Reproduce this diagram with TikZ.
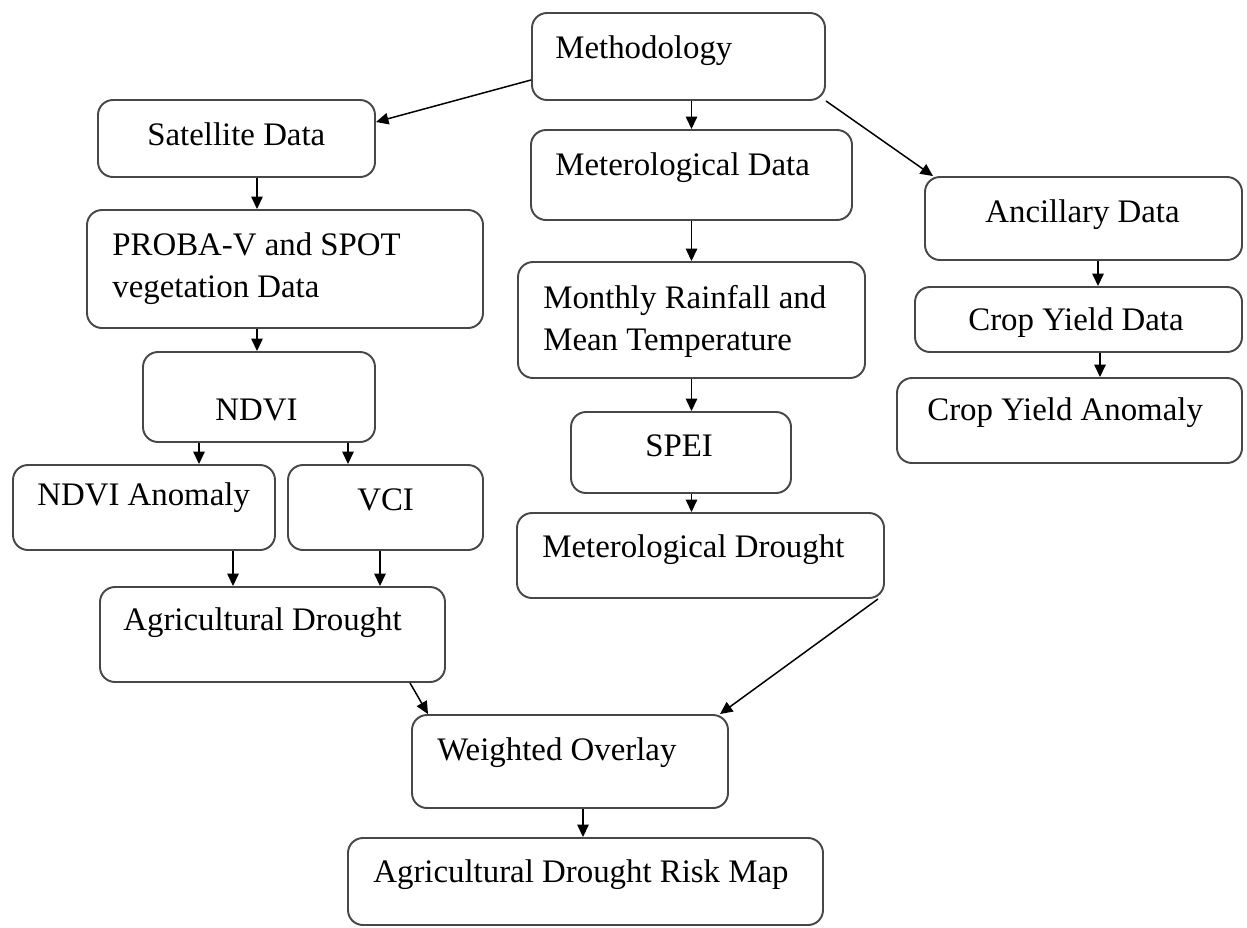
\documentclass[tikz,border=0pt]{standalone}
\usepackage{fontspec}
\setmainfont{Liberation Serif}
\usetikzlibrary{arrows.meta}

\begin{document}
\begin{tikzpicture}[x=0.02cm,y=-0.02cm,
        box/.style 2 args={draw=black!72,line width=1.1pt,rounded corners=0.3cm,
            minimum width=#1*0.02cm,minimum height=#2*0.02cm,inner sep=0pt},
        txt/.style={inner sep=0pt,anchor=base west,align=left,
            font=\fontsize{18.7}{23.4}\selectfont},
        arr/.style={line width=0.85pt,-{Triangle[length=0.25cm,width=0.23cm]}}]
        \useasboundingbox (0,0) rectangle (1247,927);
        % boxes
        \node[box={293}{87}]  (meth)  at (678.5,56.5)  {};
        \node[box={277}{77}]  (sat)   at (236.5,138.5) {};
        \node[box={396}{118}] (proba) at (285,269)     {};
        \node[box={321}{90}]  (met)   at (691.5,175)   {};
        \node[box={347}{116}] (rain)  at (691.5,320)   {};
        \node[box={220}{81}]  (spei)  at (681,452.5)   {};
        \node[box={367}{85}]  (metdr) at (700.5,555.5) {};
        \node[box={317}{83}]  (anc)   at (1083.5,218.5) {};
        \node[box={327}{65}]  (cyd)   at (1078.5,319.5) {};
        \node[box={345}{85}]  (cya)   at (1069.5,420.5) {};
        \node[box={232}{90}]  (ndvi)  at (259,397)     {};
        \node[box={262}{85}]  (ndvia) at (144,507.5)   {};
        \node[box={195}{85}]  (vci)   at (385.5,507.5) {};
        \node[box={345}{95}]  (agdr)  at (272.5,634.5) {};
        \node[box={316}{93}]  (wo)    at (570,761.5)   {};
        \node[box={475}{87}]  (risk)  at (585.5,881.5) {};
        % texts (base = last line)
        \node[txt] (meth-t)  at (555,58)  {Methodology};
        \node[txt] (sat-t)   at (147,145) {Satellite Data};
        \node[txt] (proba-t) at (112,297) {PROBA-V and SPOT\\vegetation Data};
        \node[txt] (met-t)   at (555,175) {Meterological Data};
        \node[txt] (rain-t)  at (543,350) {Monthly Rainfall and\\Mean Temperature};
        \node[txt] (spei-t)  at (645,456) {SPEI};
        \node[txt] (metdr-t) at (542,557) {Meterological Drought};
        \node[txt] (anc-t)   at (985,222) {Ancillary Data};
        \node[txt] (cyd-t)   at (968,330) {Crop Yield Data};
        \node[txt] (cya-t)   at (927,420) {Crop Yield Anomaly};
        \node[txt] (ndvi-t)  at (215,420) {NDVI};
        \node[txt] (ndvia-t) at (37,505)  {NDVI Anomaly};
        \node[txt] (vci-t)   at (357,510) {VCI};
        \node[txt] (agdr-t)  at (123,630) {Agricultural Drought};
        \node[txt] (wo-t)    at (437,760) {Weighted Overlay};
        \node[txt] (risk-t)  at (373,882) {Agricultural Drought Risk Map};
        % arrows
        \draw[arr] (meth.west |- 0,80) -- (sat.east |- 0,122);
        \draw[arr] (meth.south -| met.north) -- (met.north);
        \draw[arr] (meth.south east) -- (anc.north west -| 933,0);
        \draw[arr] (sat.south -| 257,0) -- (proba.north -| 257,0);
        \draw[arr] (met.south) -- (rain.north);
        \draw[arr] (rain.south) -- (spei.north -| rain.south);
        \draw[arr] (spei.south -| rain.south) -- (metdr.north -| rain.south);
        \draw[arr] (anc.south -| 1098,0) -- (cyd.north -| 1098,0);
        \draw[arr] (cyd.south -| 1100,0) -- (cya.north -| 1100,0);
        \draw[arr] (proba.south -| 257,0) -- (ndvi.north -| 257,0);
        \draw[arr] (ndvi.south -| 199,0) -- (ndvia.north -| 199,0);
        \draw[arr] (ndvi.south -| 348,0) -- (vci.north -| 348,0);
        \draw[arr] (ndvia.south -| 233,0) -- (agdr.north -| 233,0);
        \draw[arr] (vci.south -| 380,0) -- (agdr.north -| 380,0);
        \draw[arr] (agdr.south -| 410,0) -- (wo.north -| 428,0);
        \draw[arr] (metdr.south -| 878,0) -- (wo.north -| 720,0);
        \draw[arr] (wo.south -| 583,0) -- (risk.north -| 583,0);
\end{tikzpicture}
\end{document}
